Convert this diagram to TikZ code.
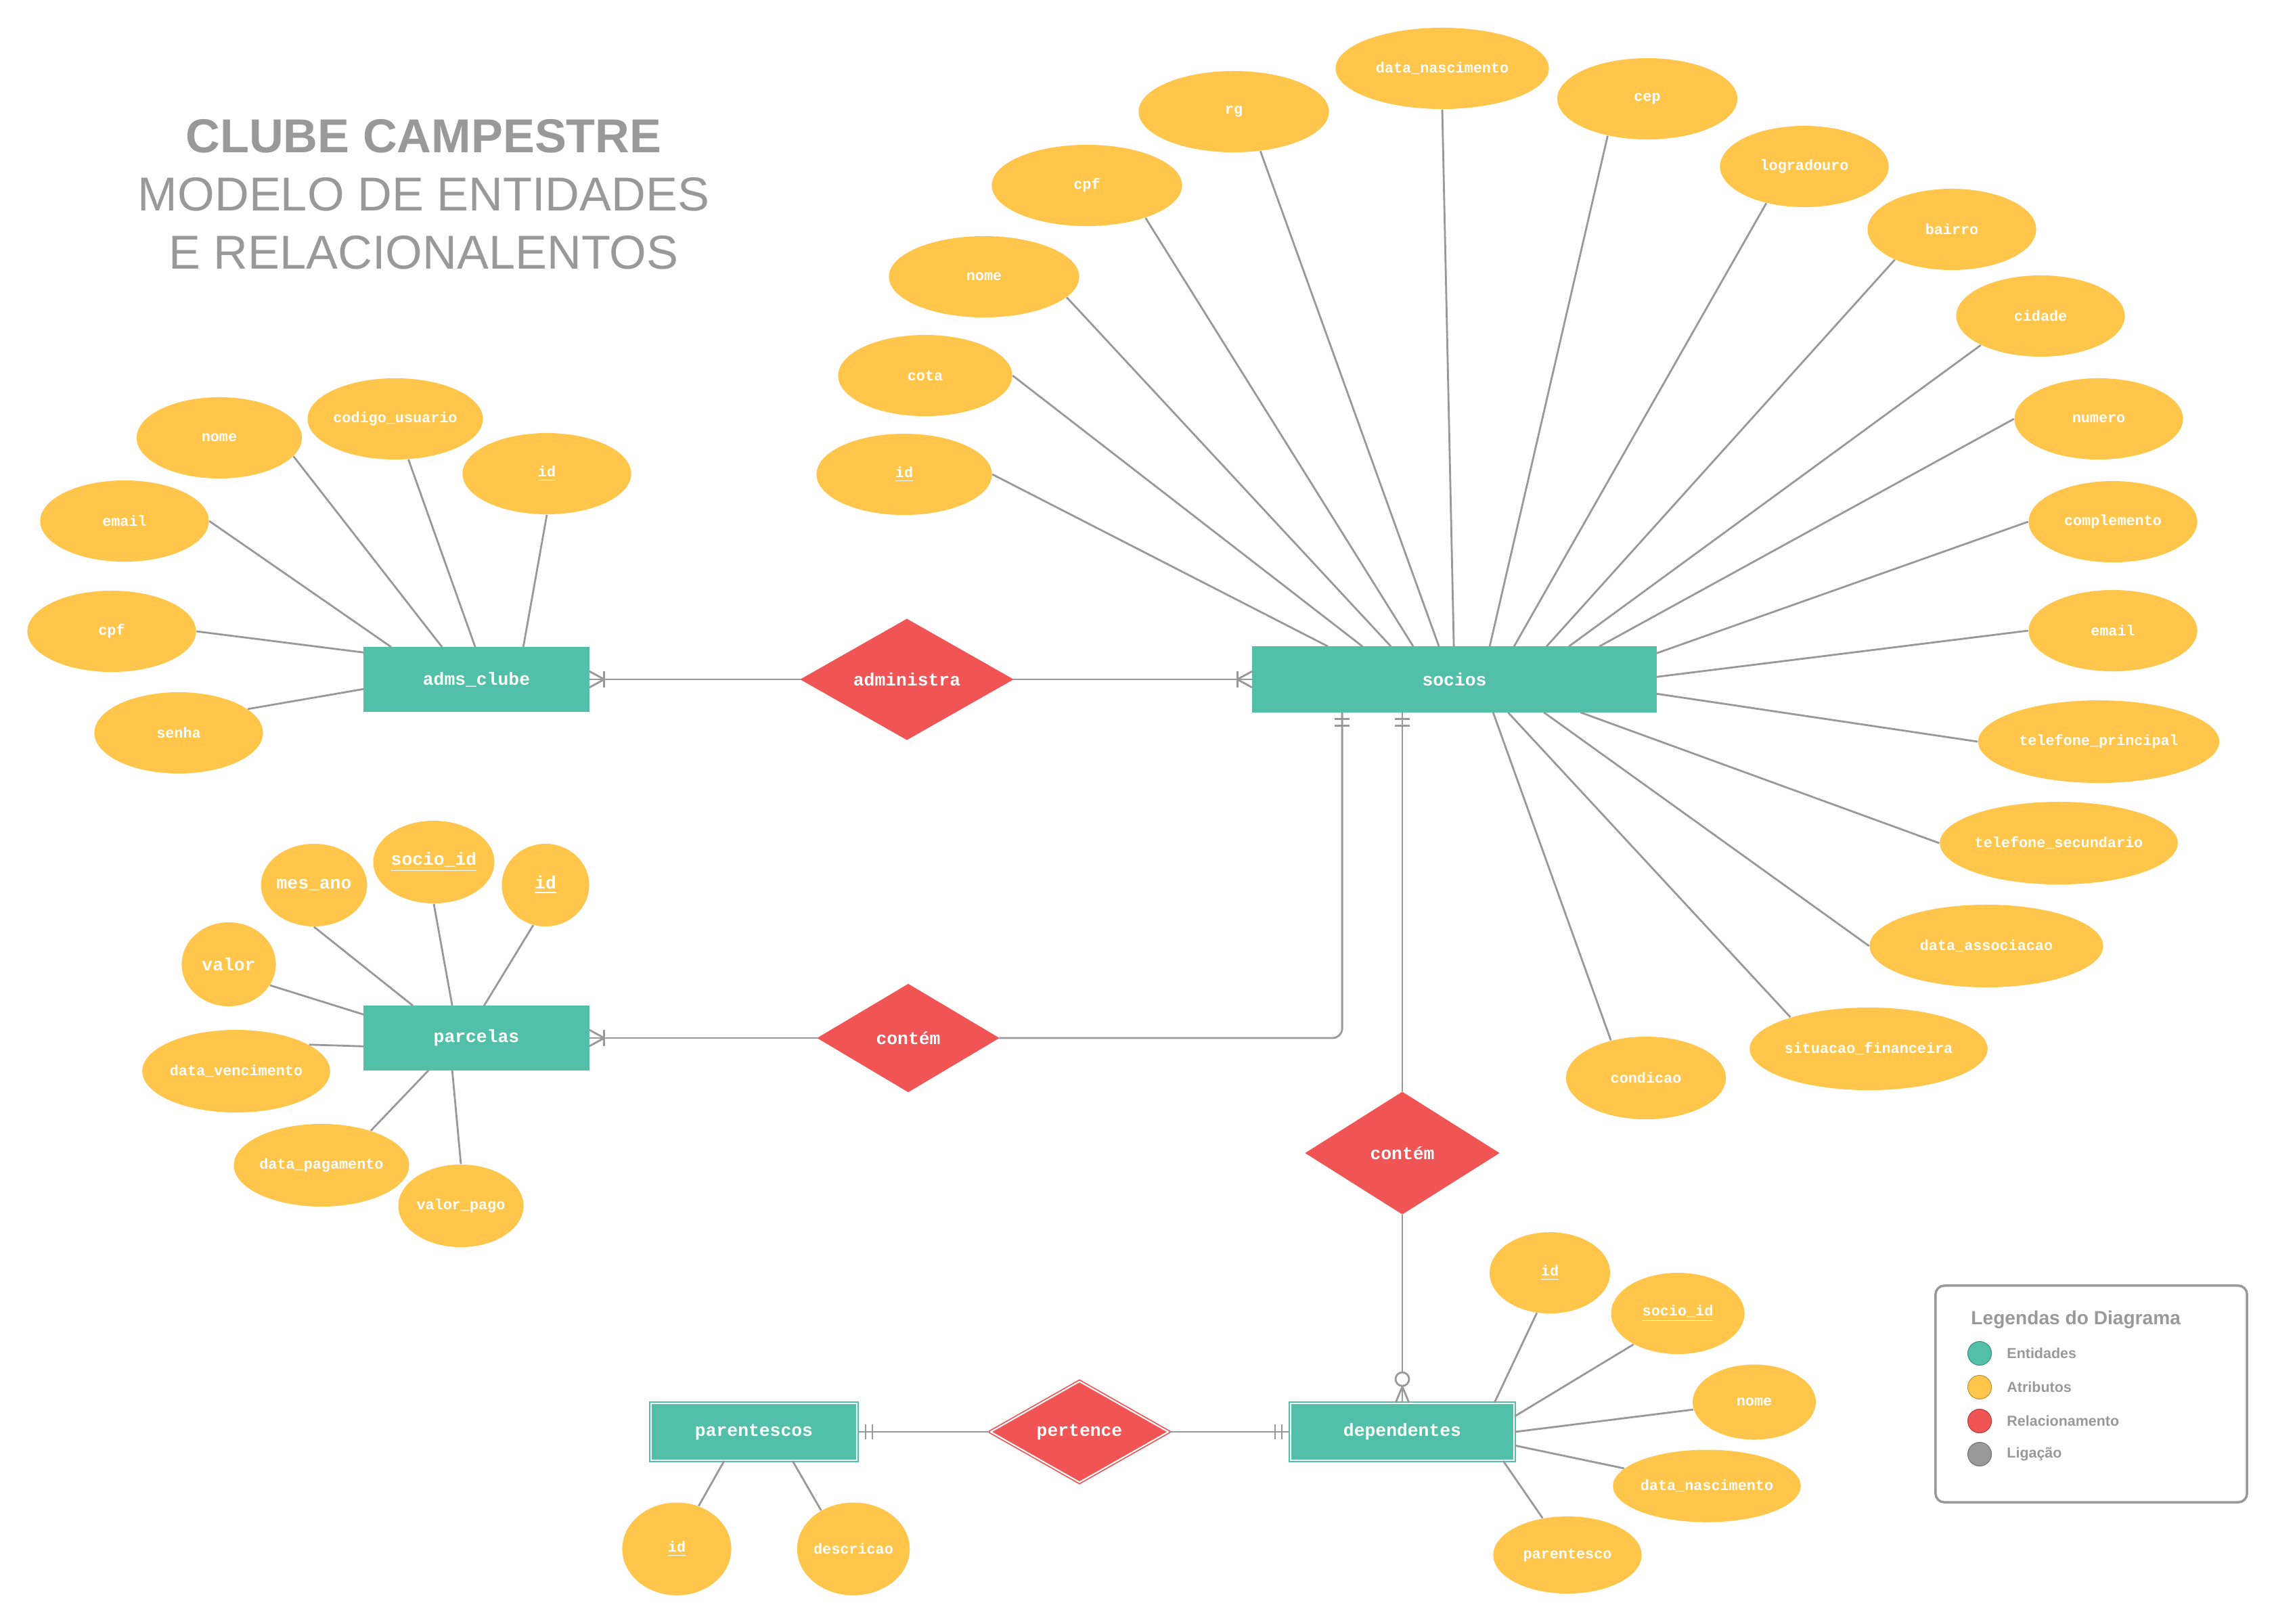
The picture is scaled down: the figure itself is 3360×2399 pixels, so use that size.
\documentclass[tikz,border=0pt]{standalone}
\usepackage{fontspec}
\setmainfont{Liberation Sans}
\newfontfamily\erfont{Liberation Mono}
\usetikzlibrary{shapes.geometric,calc}

\definecolor{entcol}{HTML}{52C0A9}
\definecolor{attrcol}{HTML}{FFC64B}
\definecolor{relcol}{HTML}{F05454}
\definecolor{linecol}{HTML}{999999}
\definecolor{titlecol}{HTML}{999999}

\newcommand{\entfont}{\erfont\bfseries\fontsize{7.5}{9}\selectfont}
\newcommand{\attrfont}{\erfont\bfseries\fontsize{6.2}{7.5}\selectfont}
\newcommand{\bigattrfont}{\erfont\bfseries\fontsize{7.5}{9}\selectfont}

\begin{document}
\begin{tikzpicture}[x=0.01cm, y=-0.01cm,
    entity/.style={rectangle, fill=entcol, draw=entcol, text=white, font=\entfont, inner sep=0pt},
    weak/.style={entity, double=white, double distance=0.6pt, line width=0.5pt},
    rel/.style={diamond, fill=relcol, draw=relcol, text=white, font=\entfont, inner sep=0pt},
    attr/.style={ellipse, fill=attrcol, text=white, font=\attrfont, inner sep=0pt, minimum width=2.49cm, minimum height=1.2cm},
    bigattr/.style={attr, font=\bigattrfont, minimum height=1.22cm},
    link/.style={draw=linecol, line width=0.8pt},
    legdot/.style={circle, minimum size=0.35cm, inner sep=0pt, line width=0.3pt},
    leglabel/.style={anchor=west, text=titlecol, font=\bfseries\fontsize{6.1}{7}\selectfont}
]
\fill[white] (0,0) rectangle (3360,2399);
\useasboundingbox (0,0) rectangle (3360,2399);

% titulo
\node[align=center, text=titlecol, font=\fontsize{20}{24.5}\selectfont] (title) at (626,287)
    {\textbf{CLUBE CAMPESTRE}\\MODELO DE ENTIDADES\\E RELACIONALENTOS};

% entidades
\node[entity, minimum width=3.32cm, minimum height=0.94cm] (adms) at (704,1004) {adms\_clube};
\node[entity, minimum width=5.96cm, minimum height=0.96cm] (socios) at (2149,1004) {socios};
\node[entity, minimum width=3.32cm, minimum height=0.94cm] (parcelas) at (704,1534) {parcelas};
\node[weak, minimum width=3.04cm, minimum height=0.84cm] (parentescos) at (1114,2116) {parentescos};
\node[weak, minimum width=3.30cm, minimum height=0.84cm] (dependentes) at (2072,2116) {dependentes};

% relacionamentos
\node[rel, minimum width=3.13cm, minimum height=1.78cm] (administra) at (1340,1004) {administra};
\node[rel, minimum width=2.67cm, minimum height=1.59cm] (contem1) at (1342,1534) {contém};
\node[rel, minimum width=2.85cm, minimum height=1.80cm] (contem2) at (2072,1704) {contém};
\node[rel, double=white, double distance=0.6pt, line width=0.5pt, minimum width=2.63cm, minimum height=1.48cm] (pertence) at (1595,2116) {pertence};

% atributos de adms_clube
\node[attr, minimum width=2.44cm] (admNome) at (324,647) {nome};
\node[attr, minimum width=2.46cm] (admCodigo) at (584,619) {codigo\_usuario};
\node[attr] (admId) at (808,700) {\underline{id}};
\node[attr] (admEmail) at (184,770) {email};
\node[attr] (admCpf) at (165,933) {cpf};
\node[attr] (admSenha) at (264,1083) {senha};

% atributos de socios
\node[attr, minimum width=2.59cm] (socId) at (1336,701) {\underline{id}};
\node[attr, minimum width=2.57cm] (socCota) at (1367,555) {cota};
\node[attr, minimum width=2.81cm] (socNome) at (1454,409) {nome};
\node[attr, minimum width=2.81cm] (socCpf) at (1606,274) {cpf};
\node[attr, minimum width=2.81cm] (socRg) at (1823,165) {rg};
\node[attr, minimum width=3.15cm] (socNasc) at (2131,101) {data\_nascimento};
\node[attr, minimum width=2.66cm] (socCep) at (2434,146) {cep};
\node[attr] (socLogradouro) at (2666,246) {logradouro};
\node[attr] (socBairro) at (2884,339) {bairro};
\node[attr] (socCidade) at (3015,467) {cidade};
\node[attr] (socNumero) at (3101,619) {numero};
\node[attr] (socComplemento) at (3122,771) {complemento};
\node[attr] (socEmail) at (3122,932) {email};
\node[attr, minimum width=3.56cm, minimum height=1.22cm] (socTelPrincipal) at (3101,1096) {telefone\_principal};
\node[attr, minimum width=3.45cm, minimum height=1.22cm] (socTelSecundario) at (3042,1246) {telefone\_secundario};
\node[attr, minimum width=3.45cm, minimum height=1.22cm] (socAssociacao) at (2935,1398) {data\_associacao};
\node[attr, minimum width=3.45cm, minimum height=1.22cm] (socSituacao) at (2761,1550) {situacao\_financeira};
\node[attr, minimum width=2.36cm, minimum height=1.22cm] (socCondicao) at (2432,1593) {condicao};

% atributos de parcelas
\node[bigattr, minimum width=1.48cm] (parMes) at (464,1308) {mes\_ano};
\node[bigattr, minimum width=1.50cm] (parSocio) at (641,1274) {\underline{socio\_id}};
\node[bigattr, minimum width=1.29cm] (parId) at (806,1308) {\underline{id}};
\node[bigattr, minimum width=1.39cm, minimum height=1.24cm] (parValor) at (338,1425) {valor};
\node[attr, minimum width=2.23cm, minimum height=1.22cm] (parVencimento) at (349,1583) {data\_vencimento};
\node[attr, minimum width=2.21cm, minimum height=1.22cm] (parPagamento) at (475,1722) {data\_pagamento};
\node[attr, minimum width=1.63cm, minimum height=1.22cm] (parPago) at (681,1782) {valor\_pago};

% atributos de dependentes
\node[attr, minimum width=1.78cm] (depId) at (2290,1881) {\underline{id}};
\node[attr, minimum width=1.97cm] (depSocio) at (2479,1941) {\underline{socio\_id}};
\node[attr, minimum width=1.82cm, minimum height=1.11cm] (depNome) at (2592,2072) {nome};
\node[attr, minimum width=2.44cm, minimum height=1.07cm] (depNasc) at (2522,2196) {data\_nascimento};
\node[attr, minimum width=2.19cm, minimum height=1.14cm] (depParentesco) at (2316,2298) {parentesco};

% atributos de parentescos
\node[attr, minimum width=1.61cm, minimum height=1.37cm] (parenId) at (1000,2289) {\underline{id}};
\node[attr, minimum width=1.61cm, minimum height=1.37cm] (parenDescricao) at (1261,2289) {descricao};

% ligacoes dos atributos
\foreach \a/\dx in {admEmail.east/41, admNome.-14/116, admCodigo.-72/165, admId.south/236}
    \draw[link] (\a) -- ($(adms.north west)+(\dx,0)$);
\foreach \a/\dy in {admCpf.east/8, admSenha.19/62}
    \draw[link] (\a) -- ($(adms.north west)+(0,\dy)$);
\foreach \a/\dx in {socId.east/112, socCota.east/163, socNome.-14/205, socCpf.-29/238, socRg.-56/276, socNasc.south/298, socCep.-137/351, socLogradouro.-136/387, socBairro.-152/435, socCidade.-154/468, socNumero.west/513}
    \draw[link] (\a) -- ($(socios.north west)+(\dx,0)$);
\foreach \a/\dy in {socComplemento.west/10, socEmail.west/45, socTelPrincipal.west/70}
    \draw[link] (\a) -- ($(socios.north east)+(0,\dy)$);
\foreach \a/\dx in {socCondicao.133/356, socSituacao.158/378, socAssociacao.west/431, socTelSecundario.west/485}
    \draw[link] (\a) -- ($(socios.south west)+(\dx,0)$);
\foreach \a/\dx in {parMes.south/73, parSocio.south/131, parId.-107/178}
    \draw[link] (\a) -- ($(parcelas.north west)+(\dx,0)$);
\foreach \a/\dy in {parValor.-27/13, parVencimento.20/60}
    \draw[link] (\a) -- ($(parcelas.north west)+(0,\dy)$);
\foreach \a/\dx in {parPagamento.35/96, parPago.north/131}
    \draw[link] (\a) -- ($(parcelas.south west)+(\dx,0)$);
\draw[link] (depId.-108) -- ($(dependentes.north west)+(302,0)$);
\foreach \a/\dy in {depSocio.-145/20, depNome.-173/43, depNasc.168/63}
    \draw[link] (\a) -- ($(dependentes.north east)+(0,\dy)$);
\draw[link] (depParentesco.124) -- ($(dependentes.south west)+(315,0)$);
\foreach \a/\dx in {parenId.63/109, parenDescricao.130/210}
    \draw[link] (\a) -- ($(parentescos.south west)+(\dx,0)$);

% ligacoes dos relacionamentos
\draw[link] (administra) -- (adms);
\draw[link] (administra) -- (socios);
\draw[link] (contem1) -- (parcelas);
\draw[link, rounded corners=4pt] (contem1.east) -| ($(socios.south west)+(133,0)$);
\draw[link] (contem2.north) -- (contem2.north |- socios.south);
\draw[link] (contem2.south) -- (dependentes.north);
\draw[link] (pertence.west) -- (parentescos.east);
\draw[link] (pertence.east) -- (dependentes.west);

% cardinalidades: um ou muitos
\draw[link] ($(adms.east)+(0,-12)$) -- ($(adms.east)+(22,0)$) -- ($(adms.east)+(0,12)$);
\draw[link] ($(adms.east)+(22,-12)$) -- ($(adms.east)+(22,12)$);
\draw[link] ($(parcelas.east)+(0,-12)$) -- ($(parcelas.east)+(22,0)$) -- ($(parcelas.east)+(0,12)$);
\draw[link] ($(parcelas.east)+(22,-12)$) -- ($(parcelas.east)+(22,12)$);
\draw[link] ($(socios.west)+(0,-12)$) -- ($(socios.west)+(-22,0)$) -- ($(socios.west)+(0,12)$);
\draw[link] ($(socios.west)+(-22,-12)$) -- ($(socios.west)+(-22,12)$);

% cardinalidades: um e somente um
\foreach \d in {10,20} {
    \draw[link] ($(socios.south west)+(122,\d)$) -- ++(22,0);
    \draw[link] ($(contem2.north |- socios.south)+(-11,\d)$) -- ++(22,0);
    \draw[link] ($(parentescos.east)+(\d+2,-11)$) -- ++(0,22);
    \draw[link] ($(dependentes.west)+(-\d-2,-11)$) -- ++(0,22);
}

% cardinalidade: zero ou muitos
\draw[link] ($(dependentes.north)+(-10,0)$) -- ($(dependentes.north)+(0,-24)$) -- ($(dependentes.north)+(10,0)$);
\draw[link, fill=white] ($(dependentes.north)+(0,-35)$) circle [radius=0.1cm];

% legenda
\node[draw=linecol, line width=1pt, rounded corners=0.13cm, minimum width=4.6cm, minimum height=3.2cm] (legend) at (3090,2060) {};
\node[anchor=west, text=titlecol, font=\bfseries\fontsize{8}{10}\selectfont] (legtitle) at (2900,1950) {Legendas do Diagrama};
\foreach \c/\t/\y [count=\i] in {entcol/Entidades/2000, attrcol/Atributos/2050, relcol/Relacionamento/2100, linecol/Ligação/2149} {
    \node[legdot, fill=\c, draw=\c!75!black] (legdot\i) at (2925,\y) {};
    \node[leglabel] (leglabel\i) at ($(legdot\i)+(28,0)$) {\t};
}
\end{tikzpicture}
\end{document}
